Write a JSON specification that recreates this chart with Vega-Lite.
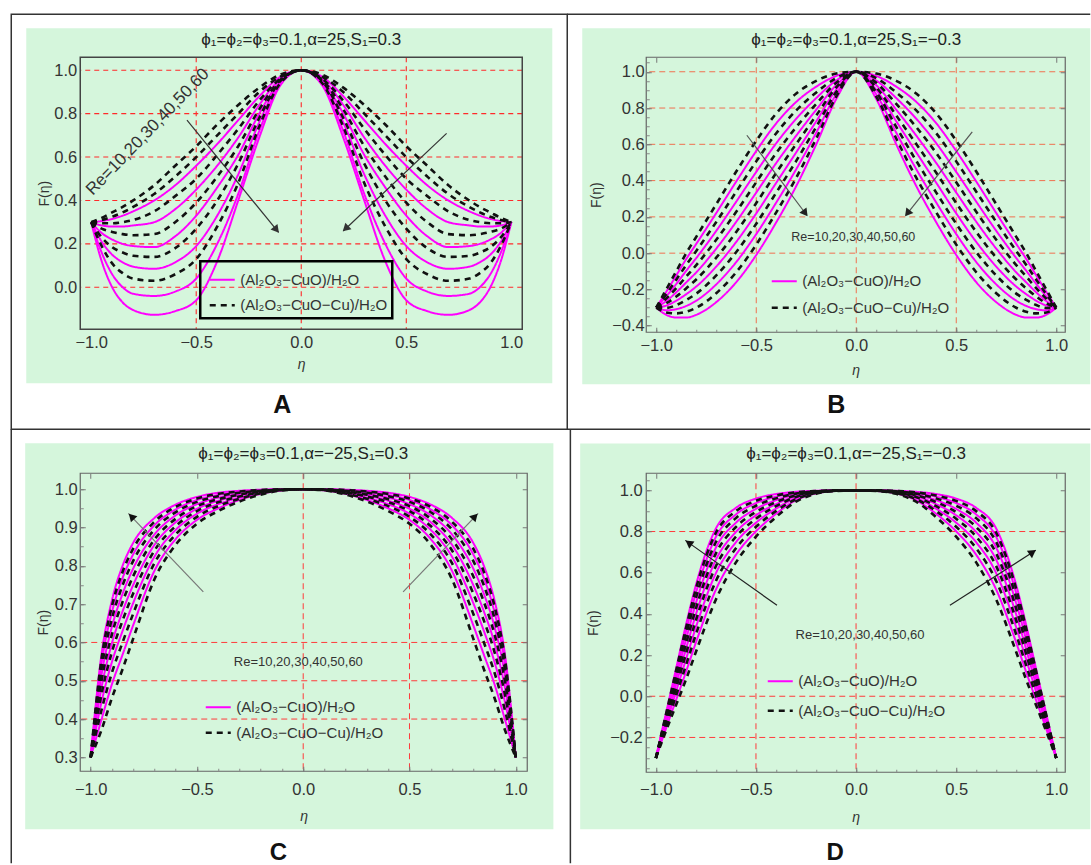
{
"$schema":"https://vega.github.io/schema/vega-lite/v6.json",
"background":"white",
"padding":{"left":10.25,"top":13.25,"right":0,"bottom":0},
"bounds":"flush",
"columns":2,
"spacing":{"row":141,"column":119},
"datasets":{"curves":[
{"p":"A","t":"M","x":-1,"r1":0.3,"r2":0.3,"r3":0.3,"r4":0.3,"r5":0.3,"r6":0.3},
{"p":"A","t":"M","x":-0.95,"r1":0.305,"r2":0.285,"r3":0.25,"r4":0.21,"r5":0.16,"r6":0.12},
{"p":"A","t":"M","x":-0.9,"r1":0.315,"r2":0.28,"r3":0.22,"r4":0.15,"r5":0.06,"r6":0},
{"p":"A","t":"M","x":-0.85,"r1":0.33,"r2":0.28,"r3":0.2,"r4":0.115,"r5":0,"r6":-0.07},
{"p":"A","t":"M","x":-0.8,"r1":0.35,"r2":0.285,"r3":0.19,"r4":0.095,"r5":-0.03,"r6":-0.105},
{"p":"A","t":"M","x":-0.7,"r1":0.4,"r2":0.3,"r3":0.185,"r4":0.085,"r5":-0.04,"r6":-0.127},
{"p":"A","t":"M","x":-0.6,"r1":0.47,"r2":0.36,"r3":0.235,"r4":0.115,"r5":-0.02,"r6":-0.11},
{"p":"A","t":"M","x":-0.5,"r1":0.56,"r2":0.45,"r3":0.33,"r4":0.19,"r5":0.04,"r6":-0.06},
{"p":"A","t":"M","x":-0.4,"r1":0.66,"r2":0.56,"r3":0.46,"r4":0.33,"r5":0.2,"r6":0.12},
{"p":"A","t":"M","x":-0.3,"r1":0.77,"r2":0.69,"r3":0.61,"r4":0.52,"r5":0.43,"r6":0.4},
{"p":"A","t":"M","x":-0.2,"r1":0.88,"r2":0.84,"r3":0.8,"r4":0.76,"r5":0.72,"r6":0.69},
{"p":"A","t":"M","x":-0.1,"r1":0.97,"r2":0.96,"r3":0.95,"r4":0.945,"r5":0.935,"r6":0.93},
{"p":"A","t":"M","x":0,"r1":1,"r2":1,"r3":1,"r4":1,"r5":1,"r6":1},
{"p":"A","t":"M","x":0.1,"r1":0.97,"r2":0.96,"r3":0.95,"r4":0.945,"r5":0.935,"r6":0.93},
{"p":"A","t":"M","x":0.2,"r1":0.88,"r2":0.84,"r3":0.8,"r4":0.76,"r5":0.72,"r6":0.69},
{"p":"A","t":"M","x":0.3,"r1":0.77,"r2":0.69,"r3":0.61,"r4":0.52,"r5":0.43,"r6":0.4},
{"p":"A","t":"M","x":0.4,"r1":0.66,"r2":0.56,"r3":0.46,"r4":0.33,"r5":0.2,"r6":0.12},
{"p":"A","t":"M","x":0.5,"r1":0.56,"r2":0.45,"r3":0.33,"r4":0.19,"r5":0.04,"r6":-0.06},
{"p":"A","t":"M","x":0.6,"r1":0.47,"r2":0.36,"r3":0.235,"r4":0.115,"r5":-0.02,"r6":-0.11},
{"p":"A","t":"M","x":0.7,"r1":0.4,"r2":0.3,"r3":0.185,"r4":0.085,"r5":-0.04,"r6":-0.127},
{"p":"A","t":"M","x":0.8,"r1":0.35,"r2":0.285,"r3":0.19,"r4":0.095,"r5":-0.03,"r6":-0.105},
{"p":"A","t":"M","x":0.85,"r1":0.33,"r2":0.28,"r3":0.2,"r4":0.115,"r5":0,"r6":-0.07},
{"p":"A","t":"M","x":0.9,"r1":0.315,"r2":0.28,"r3":0.22,"r4":0.15,"r5":0.06,"r6":0},
{"p":"A","t":"M","x":0.95,"r1":0.305,"r2":0.285,"r3":0.25,"r4":0.21,"r5":0.16,"r6":0.12},
{"p":"A","t":"M","x":1,"r1":0.3,"r2":0.3,"r3":0.3,"r4":0.3,"r5":0.3,"r6":0.3},
{"p":"A","t":"D","x":-1,"r1":0.3,"r2":0.3,"r3":0.3,"r4":0.3,"r5":0.3,"r6":0.3},
{"p":"A","t":"D","x":-0.95,"r1":0.32,"r2":0.31,"r3":0.295,"r4":0.27,"r5":0.23,"r6":0.19},
{"p":"A","t":"D","x":-0.9,"r1":0.345,"r2":0.325,"r3":0.295,"r4":0.255,"r5":0.185,"r6":0.11},
{"p":"A","t":"D","x":-0.85,"r1":0.37,"r2":0.345,"r3":0.3,"r4":0.245,"r5":0.16,"r6":0.065},
{"p":"A","t":"D","x":-0.8,"r1":0.4,"r2":0.37,"r3":0.31,"r4":0.24,"r5":0.145,"r6":0.04},
{"p":"A","t":"D","x":-0.7,"r1":0.47,"r2":0.43,"r3":0.35,"r4":0.245,"r5":0.14,"r6":0.03},
{"p":"A","t":"D","x":-0.6,"r1":0.56,"r2":0.51,"r3":0.42,"r4":0.3,"r5":0.18,"r6":0.06},
{"p":"A","t":"D","x":-0.5,"r1":0.65,"r2":0.6,"r3":0.5,"r4":0.39,"r5":0.27,"r6":0.13},
{"p":"A","t":"D","x":-0.4,"r1":0.75,"r2":0.7,"r3":0.61,"r4":0.51,"r5":0.4,"r6":0.28},
{"p":"A","t":"D","x":-0.3,"r1":0.84,"r2":0.8,"r3":0.73,"r4":0.65,"r5":0.57,"r6":0.48},
{"p":"A","t":"D","x":-0.2,"r1":0.92,"r2":0.9,"r3":0.86,"r4":0.82,"r5":0.78,"r6":0.74},
{"p":"A","t":"D","x":-0.1,"r1":0.98,"r2":0.97,"r3":0.96,"r4":0.955,"r5":0.95,"r6":0.94},
{"p":"A","t":"D","x":0,"r1":1,"r2":1,"r3":1,"r4":1,"r5":1,"r6":1},
{"p":"A","t":"D","x":0.1,"r1":0.98,"r2":0.97,"r3":0.96,"r4":0.955,"r5":0.95,"r6":0.94},
{"p":"A","t":"D","x":0.2,"r1":0.92,"r2":0.9,"r3":0.86,"r4":0.82,"r5":0.78,"r6":0.74},
{"p":"A","t":"D","x":0.3,"r1":0.84,"r2":0.8,"r3":0.73,"r4":0.65,"r5":0.57,"r6":0.48},
{"p":"A","t":"D","x":0.4,"r1":0.75,"r2":0.7,"r3":0.61,"r4":0.51,"r5":0.4,"r6":0.28},
{"p":"A","t":"D","x":0.5,"r1":0.65,"r2":0.6,"r3":0.5,"r4":0.39,"r5":0.27,"r6":0.13},
{"p":"A","t":"D","x":0.6,"r1":0.56,"r2":0.51,"r3":0.42,"r4":0.3,"r5":0.18,"r6":0.06},
{"p":"A","t":"D","x":0.7,"r1":0.47,"r2":0.43,"r3":0.35,"r4":0.245,"r5":0.14,"r6":0.03},
{"p":"A","t":"D","x":0.8,"r1":0.4,"r2":0.37,"r3":0.31,"r4":0.24,"r5":0.145,"r6":0.04},
{"p":"A","t":"D","x":0.85,"r1":0.37,"r2":0.345,"r3":0.3,"r4":0.245,"r5":0.16,"r6":0.065},
{"p":"A","t":"D","x":0.9,"r1":0.345,"r2":0.325,"r3":0.295,"r4":0.255,"r5":0.185,"r6":0.11},
{"p":"A","t":"D","x":0.95,"r1":0.32,"r2":0.31,"r3":0.295,"r4":0.27,"r5":0.23,"r6":0.19},
{"p":"A","t":"D","x":1,"r1":0.3,"r2":0.3,"r3":0.3,"r4":0.3,"r5":0.3,"r6":0.3},
{"p":"B","t":"M","x":-1,"r1":-0.3,"r2":-0.3,"r3":-0.3,"r4":-0.3,"r5":-0.3,"r6":-0.3},
{"p":"B","t":"M","x":-0.95,"r1":-0.213,"r2":-0.238,"r3":-0.264,"r4":-0.289,"r5":-0.315,"r6":-0.34},
{"p":"B","t":"M","x":-0.9,"r1":-0.123,"r2":-0.17,"r3":-0.216,"r4":-0.262,"r5":-0.309,"r6":-0.355},
{"p":"B","t":"M","x":-0.85,"r1":-0.032,"r2":-0.097,"r3":-0.161,"r4":-0.226,"r5":-0.291,"r6":-0.355},
{"p":"B","t":"M","x":-0.8,"r1":0.051,"r2":-0.027,"r3":-0.106,"r4":-0.184,"r5":-0.262,"r6":-0.34},
{"p":"B","t":"M","x":-0.7,"r1":0.221,"r2":0.123,"r3":0.025,"r4":-0.074,"r5":-0.172,"r6":-0.27},
{"p":"B","t":"M","x":-0.6,"r1":0.395,"r2":0.284,"r3":0.173,"r4":0.062,"r5":-0.049,"r6":-0.16},
{"p":"B","t":"M","x":-0.5,"r1":0.563,"r2":0.448,"r3":0.334,"r4":0.219,"r5":0.105,"r6":-0.01},
{"p":"B","t":"M","x":-0.4,"r1":0.716,"r2":0.606,"r3":0.497,"r4":0.388,"r5":0.279,"r6":0.17},
{"p":"B","t":"M","x":-0.3,"r1":0.834,"r2":0.741,"r3":0.648,"r4":0.556,"r5":0.463,"r6":0.37},
{"p":"B","t":"M","x":-0.2,"r1":0.918,"r2":0.855,"r3":0.791,"r4":0.727,"r5":0.664,"r6":0.6},
{"p":"B","t":"M","x":-0.1,"r1":0.977,"r2":0.952,"r3":0.926,"r4":0.901,"r5":0.876,"r6":0.85},
{"p":"B","t":"M","x":0,"r1":1,"r2":1,"r3":1,"r4":1,"r5":1,"r6":1},
{"p":"B","t":"M","x":0.1,"r1":0.977,"r2":0.952,"r3":0.926,"r4":0.901,"r5":0.876,"r6":0.85},
{"p":"B","t":"M","x":0.2,"r1":0.918,"r2":0.855,"r3":0.791,"r4":0.727,"r5":0.664,"r6":0.6},
{"p":"B","t":"M","x":0.3,"r1":0.834,"r2":0.741,"r3":0.648,"r4":0.556,"r5":0.463,"r6":0.37},
{"p":"B","t":"M","x":0.4,"r1":0.716,"r2":0.606,"r3":0.497,"r4":0.388,"r5":0.279,"r6":0.17},
{"p":"B","t":"M","x":0.5,"r1":0.563,"r2":0.448,"r3":0.334,"r4":0.219,"r5":0.105,"r6":-0.01},
{"p":"B","t":"M","x":0.6,"r1":0.395,"r2":0.284,"r3":0.173,"r4":0.062,"r5":-0.049,"r6":-0.16},
{"p":"B","t":"M","x":0.7,"r1":0.221,"r2":0.123,"r3":0.025,"r4":-0.074,"r5":-0.172,"r6":-0.27},
{"p":"B","t":"M","x":0.8,"r1":0.051,"r2":-0.027,"r3":-0.106,"r4":-0.184,"r5":-0.262,"r6":-0.34},
{"p":"B","t":"M","x":0.85,"r1":-0.032,"r2":-0.097,"r3":-0.161,"r4":-0.226,"r5":-0.291,"r6":-0.355},
{"p":"B","t":"M","x":0.9,"r1":-0.123,"r2":-0.17,"r3":-0.216,"r4":-0.262,"r5":-0.309,"r6":-0.355},
{"p":"B","t":"M","x":0.95,"r1":-0.213,"r2":-0.238,"r3":-0.264,"r4":-0.289,"r5":-0.315,"r6":-0.34},
{"p":"B","t":"M","x":1,"r1":-0.3,"r2":-0.3,"r3":-0.3,"r4":-0.3,"r5":-0.3,"r6":-0.3},
{"p":"B","t":"D","x":-1,"r1":-0.3,"r2":-0.3,"r3":-0.3,"r4":-0.3,"r5":-0.3,"r6":-0.3},
{"p":"B","t":"D","x":-0.95,"r1":-0.2,"r2":-0.226,"r3":-0.251,"r4":-0.276,"r5":-0.302,"r6":-0.327},
{"p":"B","t":"D","x":-0.9,"r1":-0.1,"r2":-0.146,"r3":-0.193,"r4":-0.239,"r5":-0.286,"r6":-0.332},
{"p":"B","t":"D","x":-0.85,"r1":0,"r2":-0.065,"r3":-0.129,"r4":-0.194,"r5":-0.258,"r6":-0.323},
{"p":"B","t":"D","x":-0.8,"r1":0.09,"r2":0.012,"r3":-0.066,"r4":-0.145,"r5":-0.223,"r6":-0.301},
{"p":"B","t":"D","x":-0.7,"r1":0.27,"r2":0.172,"r3":0.074,"r4":-0.025,"r5":-0.123,"r6":-0.221},
{"p":"B","t":"D","x":-0.6,"r1":0.45,"r2":0.339,"r3":0.228,"r4":0.117,"r5":0.006,"r6":-0.105},
{"p":"B","t":"D","x":-0.5,"r1":0.62,"r2":0.506,"r3":0.391,"r4":0.276,"r5":0.162,"r6":0.047},
{"p":"B","t":"D","x":-0.4,"r1":0.77,"r2":0.661,"r3":0.552,"r4":0.443,"r5":0.334,"r6":0.225},
{"p":"B","t":"D","x":-0.3,"r1":0.88,"r2":0.787,"r3":0.695,"r4":0.602,"r5":0.509,"r6":0.416},
{"p":"B","t":"D","x":-0.2,"r1":0.95,"r2":0.886,"r3":0.823,"r4":0.759,"r5":0.696,"r6":0.632},
{"p":"B","t":"D","x":-0.1,"r1":0.99,"r2":0.965,"r3":0.939,"r4":0.914,"r5":0.888,"r6":0.863},
{"p":"B","t":"D","x":0,"r1":1,"r2":1,"r3":1,"r4":1,"r5":1,"r6":1},
{"p":"B","t":"D","x":0.1,"r1":0.99,"r2":0.965,"r3":0.939,"r4":0.914,"r5":0.888,"r6":0.863},
{"p":"B","t":"D","x":0.2,"r1":0.95,"r2":0.886,"r3":0.823,"r4":0.759,"r5":0.696,"r6":0.632},
{"p":"B","t":"D","x":0.3,"r1":0.88,"r2":0.787,"r3":0.695,"r4":0.602,"r5":0.509,"r6":0.416},
{"p":"B","t":"D","x":0.4,"r1":0.77,"r2":0.661,"r3":0.552,"r4":0.443,"r5":0.334,"r6":0.225},
{"p":"B","t":"D","x":0.5,"r1":0.62,"r2":0.506,"r3":0.391,"r4":0.276,"r5":0.162,"r6":0.047},
{"p":"B","t":"D","x":0.6,"r1":0.45,"r2":0.339,"r3":0.228,"r4":0.117,"r5":0.006,"r6":-0.105},
{"p":"B","t":"D","x":0.7,"r1":0.27,"r2":0.172,"r3":0.074,"r4":-0.025,"r5":-0.123,"r6":-0.221},
{"p":"B","t":"D","x":0.8,"r1":0.09,"r2":0.012,"r3":-0.066,"r4":-0.145,"r5":-0.223,"r6":-0.301},
{"p":"B","t":"D","x":0.85,"r1":0,"r2":-0.065,"r3":-0.129,"r4":-0.194,"r5":-0.258,"r6":-0.323},
{"p":"B","t":"D","x":0.9,"r1":-0.1,"r2":-0.146,"r3":-0.193,"r4":-0.239,"r5":-0.286,"r6":-0.332},
{"p":"B","t":"D","x":0.95,"r1":-0.2,"r2":-0.226,"r3":-0.251,"r4":-0.276,"r5":-0.302,"r6":-0.327},
{"p":"B","t":"D","x":1,"r1":-0.3,"r2":-0.3,"r3":-0.3,"r4":-0.3,"r5":-0.3,"r6":-0.3},
{"p":"C","t":"M","x":-1,"r1":0.3,"r2":0.3,"r3":0.3,"r4":0.3,"r5":0.3,"r6":0.3},
{"p":"C","t":"M","x":-0.95,"r1":0.397,"r2":0.442,"r3":0.479,"r4":0.512,"r5":0.542,"r6":0.565},
{"p":"C","t":"M","x":-0.9,"r1":0.491,"r2":0.549,"r3":0.598,"r4":0.641,"r5":0.679,"r6":0.71},
{"p":"C","t":"M","x":-0.85,"r1":0.568,"r2":0.63,"r3":0.681,"r4":0.727,"r5":0.768,"r6":0.8},
{"p":"C","t":"M","x":-0.8,"r1":0.645,"r2":0.703,"r3":0.75,"r4":0.793,"r5":0.83,"r6":0.86},
{"p":"C","t":"M","x":-0.7,"r1":0.787,"r2":0.824,"r3":0.855,"r4":0.882,"r5":0.906,"r6":0.925},
{"p":"C","t":"M","x":-0.6,"r1":0.87,"r2":0.894,"r3":0.914,"r4":0.932,"r5":0.947,"r6":0.96},
{"p":"C","t":"M","x":-0.5,"r1":0.92,"r2":0.936,"r3":0.949,"r4":0.961,"r5":0.972,"r6":0.98},
{"p":"C","t":"M","x":-0.4,"r1":0.95,"r2":0.961,"r3":0.97,"r4":0.978,"r5":0.985,"r6":0.991},
{"p":"C","t":"M","x":-0.3,"r1":0.972,"r2":0.978,"r3":0.984,"r4":0.988,"r5":0.993,"r6":0.996},
{"p":"C","t":"M","x":-0.2,"r1":0.988,"r2":0.991,"r3":0.993,"r4":0.996,"r5":0.997,"r6":0.999},
{"p":"C","t":"M","x":-0.1,"r1":0.997,"r2":0.998,"r3":0.999,"r4":0.999,"r5":1,"r6":1},
{"p":"C","t":"M","x":0,"r1":1,"r2":1,"r3":1,"r4":1,"r5":1,"r6":1},
{"p":"C","t":"M","x":0.1,"r1":0.997,"r2":0.998,"r3":0.999,"r4":0.999,"r5":1,"r6":1},
{"p":"C","t":"M","x":0.2,"r1":0.988,"r2":0.991,"r3":0.993,"r4":0.996,"r5":0.997,"r6":0.999},
{"p":"C","t":"M","x":0.3,"r1":0.972,"r2":0.978,"r3":0.984,"r4":0.988,"r5":0.993,"r6":0.996},
{"p":"C","t":"M","x":0.4,"r1":0.95,"r2":0.961,"r3":0.97,"r4":0.978,"r5":0.985,"r6":0.991},
{"p":"C","t":"M","x":0.5,"r1":0.92,"r2":0.936,"r3":0.949,"r4":0.961,"r5":0.972,"r6":0.98},
{"p":"C","t":"M","x":0.6,"r1":0.87,"r2":0.894,"r3":0.914,"r4":0.932,"r5":0.947,"r6":0.96},
{"p":"C","t":"M","x":0.7,"r1":0.787,"r2":0.824,"r3":0.855,"r4":0.882,"r5":0.906,"r6":0.925},
{"p":"C","t":"M","x":0.8,"r1":0.645,"r2":0.703,"r3":0.75,"r4":0.793,"r5":0.83,"r6":0.86},
{"p":"C","t":"M","x":0.85,"r1":0.568,"r2":0.63,"r3":0.681,"r4":0.727,"r5":0.768,"r6":0.8},
{"p":"C","t":"M","x":0.9,"r1":0.491,"r2":0.549,"r3":0.598,"r4":0.641,"r5":0.679,"r6":0.71},
{"p":"C","t":"M","x":0.95,"r1":0.397,"r2":0.442,"r3":0.479,"r4":0.512,"r5":0.542,"r6":0.565},
{"p":"C","t":"M","x":1,"r1":0.3,"r2":0.3,"r3":0.3,"r4":0.3,"r5":0.3,"r6":0.3},
{"p":"C","t":"D","x":-1,"r1":0.3,"r2":0.3,"r3":0.3,"r4":0.3,"r5":0.3,"r6":0.3},
{"p":"C","t":"D","x":-0.95,"r1":0.37,"r2":0.421,"r3":0.462,"r4":0.497,"r5":0.528,"r6":0.553},
{"p":"C","t":"D","x":-0.9,"r1":0.455,"r2":0.521,"r3":0.575,"r4":0.621,"r5":0.662,"r6":0.695},
{"p":"C","t":"D","x":-0.85,"r1":0.53,"r2":0.6,"r3":0.657,"r4":0.706,"r5":0.749,"r6":0.784},
{"p":"C","t":"D","x":-0.8,"r1":0.61,"r2":0.675,"r3":0.728,"r4":0.773,"r5":0.813,"r6":0.845},
{"p":"C","t":"D","x":-0.7,"r1":0.765,"r2":0.807,"r3":0.84,"r4":0.869,"r5":0.895,"r6":0.915},
{"p":"C","t":"D","x":-0.6,"r1":0.855,"r2":0.882,"r3":0.904,"r4":0.923,"r5":0.94,"r6":0.954},
{"p":"C","t":"D","x":-0.5,"r1":0.91,"r2":0.928,"r3":0.943,"r4":0.956,"r5":0.967,"r6":0.976},
{"p":"C","t":"D","x":-0.4,"r1":0.943,"r2":0.956,"r3":0.966,"r4":0.974,"r5":0.982,"r6":0.988},
{"p":"C","t":"D","x":-0.3,"r1":0.968,"r2":0.975,"r3":0.981,"r4":0.986,"r5":0.991,"r6":0.994},
{"p":"C","t":"D","x":-0.2,"r1":0.986,"r2":0.989,"r3":0.992,"r4":0.994,"r5":0.996,"r6":0.998},
{"p":"C","t":"D","x":-0.1,"r1":0.997,"r2":0.998,"r3":0.998,"r4":0.999,"r5":0.999,"r6":1},
{"p":"C","t":"D","x":0,"r1":1,"r2":1,"r3":1,"r4":1,"r5":1,"r6":1},
{"p":"C","t":"D","x":0.1,"r1":0.997,"r2":0.998,"r3":0.998,"r4":0.999,"r5":0.999,"r6":1},
{"p":"C","t":"D","x":0.2,"r1":0.986,"r2":0.989,"r3":0.992,"r4":0.994,"r5":0.996,"r6":0.998},
{"p":"C","t":"D","x":0.3,"r1":0.968,"r2":0.975,"r3":0.981,"r4":0.986,"r5":0.991,"r6":0.994},
{"p":"C","t":"D","x":0.4,"r1":0.943,"r2":0.956,"r3":0.966,"r4":0.974,"r5":0.982,"r6":0.988},
{"p":"C","t":"D","x":0.5,"r1":0.91,"r2":0.928,"r3":0.943,"r4":0.956,"r5":0.967,"r6":0.976},
{"p":"C","t":"D","x":0.6,"r1":0.855,"r2":0.882,"r3":0.904,"r4":0.923,"r5":0.94,"r6":0.954},
{"p":"C","t":"D","x":0.7,"r1":0.765,"r2":0.807,"r3":0.84,"r4":0.869,"r5":0.895,"r6":0.915},
{"p":"C","t":"D","x":0.8,"r1":0.61,"r2":0.675,"r3":0.728,"r4":0.773,"r5":0.813,"r6":0.845},
{"p":"C","t":"D","x":0.85,"r1":0.53,"r2":0.6,"r3":0.657,"r4":0.706,"r5":0.749,"r6":0.784},
{"p":"C","t":"D","x":0.9,"r1":0.455,"r2":0.521,"r3":0.575,"r4":0.621,"r5":0.662,"r6":0.695},
{"p":"C","t":"D","x":0.95,"r1":0.37,"r2":0.421,"r3":0.462,"r4":0.497,"r5":0.528,"r6":0.553},
{"p":"C","t":"D","x":1,"r1":0.3,"r2":0.3,"r3":0.3,"r4":0.3,"r5":0.3,"r6":0.3},
{"p":"D","t":"M","x":-1,"r1":-0.3,"r2":-0.3,"r3":-0.3,"r4":-0.3,"r5":-0.3,"r6":-0.3},
{"p":"D","t":"M","x":-0.95,"r1":-0.158,"r2":-0.139,"r3":-0.122,"r4":-0.108,"r5":-0.095,"r6":-0.085},
{"p":"D","t":"M","x":-0.9,"r1":-0.021,"r2":0.02,"r3":0.053,"r4":0.083,"r5":0.109,"r6":0.13},
{"p":"D","t":"M","x":-0.85,"r1":0.117,"r2":0.178,"r3":0.228,"r4":0.273,"r5":0.313,"r6":0.345},
{"p":"D","t":"M","x":-0.8,"r1":0.261,"r2":0.335,"r3":0.397,"r4":0.452,"r5":0.501,"r6":0.54},
{"p":"D","t":"M","x":-0.7,"r1":0.518,"r2":0.598,"r3":0.663,"r4":0.722,"r5":0.774,"r6":0.815},
{"p":"D","t":"M","x":-0.6,"r1":0.687,"r2":0.748,"r3":0.798,"r4":0.843,"r5":0.883,"r6":0.915},
{"p":"D","t":"M","x":-0.5,"r1":0.801,"r2":0.843,"r3":0.879,"r4":0.91,"r5":0.938,"r6":0.96},
{"p":"D","t":"M","x":-0.4,"r1":0.886,"r2":0.911,"r3":0.933,"r4":0.952,"r5":0.969,"r6":0.982},
{"p":"D","t":"M","x":-0.3,"r1":0.952,"r2":0.963,"r3":0.972,"r4":0.98,"r5":0.987,"r6":0.993},
{"p":"D","t":"M","x":-0.2,"r1":0.985,"r2":0.989,"r3":0.991,"r4":0.994,"r5":0.996,"r6":0.998},
{"p":"D","t":"M","x":-0.1,"r1":0.997,"r2":0.998,"r3":0.999,"r4":0.999,"r5":1,"r6":1},
{"p":"D","t":"M","x":0,"r1":1,"r2":1,"r3":1,"r4":1,"r5":1,"r6":1},
{"p":"D","t":"M","x":0.1,"r1":0.997,"r2":0.998,"r3":0.999,"r4":0.999,"r5":1,"r6":1},
{"p":"D","t":"M","x":0.2,"r1":0.985,"r2":0.989,"r3":0.991,"r4":0.994,"r5":0.996,"r6":0.998},
{"p":"D","t":"M","x":0.3,"r1":0.952,"r2":0.963,"r3":0.972,"r4":0.98,"r5":0.987,"r6":0.993},
{"p":"D","t":"M","x":0.4,"r1":0.886,"r2":0.911,"r3":0.933,"r4":0.952,"r5":0.969,"r6":0.982},
{"p":"D","t":"M","x":0.5,"r1":0.801,"r2":0.843,"r3":0.879,"r4":0.91,"r5":0.938,"r6":0.96},
{"p":"D","t":"M","x":0.6,"r1":0.687,"r2":0.748,"r3":0.798,"r4":0.843,"r5":0.883,"r6":0.915},
{"p":"D","t":"M","x":0.7,"r1":0.518,"r2":0.598,"r3":0.663,"r4":0.722,"r5":0.774,"r6":0.815},
{"p":"D","t":"M","x":0.8,"r1":0.261,"r2":0.335,"r3":0.397,"r4":0.452,"r5":0.501,"r6":0.54},
{"p":"D","t":"M","x":0.85,"r1":0.117,"r2":0.178,"r3":0.228,"r4":0.273,"r5":0.313,"r6":0.345},
{"p":"D","t":"M","x":0.9,"r1":-0.021,"r2":0.02,"r3":0.053,"r4":0.083,"r5":0.109,"r6":0.13},
{"p":"D","t":"M","x":0.95,"r1":-0.158,"r2":-0.139,"r3":-0.122,"r4":-0.108,"r5":-0.095,"r6":-0.085},
{"p":"D","t":"M","x":1,"r1":-0.3,"r2":-0.3,"r3":-0.3,"r4":-0.3,"r5":-0.3,"r6":-0.3},
{"p":"D","t":"D","x":-1,"r1":-0.3,"r2":-0.3,"r3":-0.3,"r4":-0.3,"r5":-0.3,"r6":-0.3},
{"p":"D","t":"D","x":-0.95,"r1":-0.17,"r2":-0.148,"r3":-0.13,"r4":-0.115,"r5":-0.101,"r6":-0.09},
{"p":"D","t":"D","x":-0.9,"r1":-0.045,"r2":0.001,"r3":0.037,"r4":0.069,"r5":0.097,"r6":0.12},
{"p":"D","t":"D","x":-0.85,"r1":0.08,"r2":0.149,"r3":0.205,"r4":0.252,"r5":0.295,"r6":0.329},
{"p":"D","t":"D","x":-0.8,"r1":0.215,"r2":0.3,"r3":0.368,"r4":0.426,"r5":0.478,"r6":0.521},
{"p":"D","t":"D","x":-0.7,"r1":0.47,"r2":0.56,"r3":0.632,"r4":0.694,"r5":0.749,"r6":0.794},
{"p":"D","t":"D","x":-0.6,"r1":0.65,"r2":0.719,"r3":0.775,"r4":0.822,"r5":0.865,"r6":0.899},
{"p":"D","t":"D","x":-0.5,"r1":0.775,"r2":0.823,"r3":0.862,"r4":0.895,"r5":0.925,"r6":0.949},
{"p":"D","t":"D","x":-0.4,"r1":0.87,"r2":0.899,"r3":0.923,"r4":0.943,"r5":0.961,"r6":0.975},
{"p":"D","t":"D","x":-0.3,"r1":0.945,"r2":0.957,"r3":0.968,"r4":0.976,"r5":0.984,"r6":0.99},
{"p":"D","t":"D","x":-0.2,"r1":0.983,"r2":0.987,"r3":0.99,"r4":0.993,"r5":0.995,"r6":0.997},
{"p":"D","t":"D","x":-0.1,"r1":0.997,"r2":0.998,"r3":0.998,"r4":0.999,"r5":0.999,"r6":1},
{"p":"D","t":"D","x":0,"r1":1,"r2":1,"r3":1,"r4":1,"r5":1,"r6":1},
{"p":"D","t":"D","x":0.1,"r1":0.997,"r2":0.998,"r3":0.998,"r4":0.999,"r5":0.999,"r6":1},
{"p":"D","t":"D","x":0.2,"r1":0.983,"r2":0.987,"r3":0.99,"r4":0.993,"r5":0.995,"r6":0.997},
{"p":"D","t":"D","x":0.3,"r1":0.945,"r2":0.957,"r3":0.968,"r4":0.976,"r5":0.984,"r6":0.99},
{"p":"D","t":"D","x":0.4,"r1":0.87,"r2":0.899,"r3":0.923,"r4":0.943,"r5":0.961,"r6":0.975},
{"p":"D","t":"D","x":0.5,"r1":0.775,"r2":0.823,"r3":0.862,"r4":0.895,"r5":0.925,"r6":0.949},
{"p":"D","t":"D","x":0.6,"r1":0.65,"r2":0.719,"r3":0.775,"r4":0.822,"r5":0.865,"r6":0.899},
{"p":"D","t":"D","x":0.7,"r1":0.47,"r2":0.56,"r3":0.632,"r4":0.694,"r5":0.749,"r6":0.794},
{"p":"D","t":"D","x":0.8,"r1":0.215,"r2":0.3,"r3":0.368,"r4":0.426,"r5":0.478,"r6":0.521},
{"p":"D","t":"D","x":0.85,"r1":0.08,"r2":0.149,"r3":0.205,"r4":0.252,"r5":0.295,"r6":0.329},
{"p":"D","t":"D","x":0.9,"r1":-0.045,"r2":0.001,"r3":0.037,"r4":0.069,"r5":0.097,"r6":0.12},
{"p":"D","t":"D","x":0.95,"r1":-0.17,"r2":-0.148,"r3":-0.13,"r4":-0.115,"r5":-0.101,"r6":-0.09},
{"p":"D","t":"D","x":1,"r1":-0.3,"r2":-0.3,"r3":-0.3,"r4":-0.3,"r5":-0.3,"r6":-0.3}
]},
"concat":[
{
 "width":442,"height":272,
 "resolve":{"axis":{"x":"independent","y":"independent"}},
 "layer":[
  {"data":{"values":[{}]},"mark":{"type":"rect","fill":"#d5f6dc"},"encoding":{"x":{"datum":-1.309,"type":"quantitative","scale":{"domain":[-1.052,1.052],"nice":false,"zero":false},"axis":null},"x2":{"datum":1.195},"y":{"datum":1.1936,"type":"quantitative","scale":{"domain":[-0.1935,1.06],"nice":false,"zero":false},"axis":null},"y2":{"datum":-0.4419}}},
  {"data":{"values":[{}]},"mark":{"type":"rect","fill":null,"stroke":"#333","strokeWidth":1.5},"encoding":{"x":{"datum":-1.3804,"type":"quantitative","scale":{"domain":[-1.052,1.052],"nice":false,"zero":false},"axis":null},"x2":{"datum":1.2662},"y":{"datum":1.2581,"type":"quantitative","scale":{"domain":[-0.1935,1.06],"nice":false,"zero":false},"axis":null},"y2":{"datum":-0.6538}}},
  {"data":{"values":[{"v":-0.5},{"v":0},{"v":0.5}]},"mark":{"type":"rule","stroke":"#ff2a2a","strokeDash":[5,4],"strokeWidth":1.1},"encoding":{"x":{"field":"v","type":"quantitative","scale":{"domain":[-1.052,1.052],"nice":false,"zero":false},"axis":null}}},
  {"data":{"values":[{"v":0},{"v":0.2},{"v":0.4},{"v":0.6},{"v":0.8},{"v":1}]},"mark":{"type":"rule","stroke":"#ff2a2a","strokeDash":[5,4],"strokeWidth":1.1},"encoding":{"y":{"field":"v","type":"quantitative","scale":{"domain":[-0.1935,1.06],"nice":false,"zero":false},"axis":null}}},
  {"data":{"values":[{}]},"mark":{"type":"rect","fill":null,"stroke":"#444","strokeWidth":1.5},"encoding":{"x":{"datum":-1.052,"type":"quantitative","scale":{"domain":[-1.052,1.052],"nice":false,"zero":false},"axis":null},"x2":{"datum":1.052},"y":{"datum":1.06,"type":"quantitative","scale":{"domain":[-0.1935,1.06],"nice":false,"zero":false},"axis":null},"y2":{"datum":-0.1935}}},
  {"data":{"name":"curves"},"transform":[{"filter":"datum.p == 'A'"},{"fold":["r1","r2","r3","r4","r5","r6"],"as":["re","y"]}],
   "mark":{"type":"line","interpolate":"monotone"},
   "encoding":{
    "x":{"field":"x","type":"quantitative","scale":{"domain":[-1.052,1.052],"nice":false,"zero":false},"axis":{"zindex":1,"values":[-1,-0.5,0,0.5,1],"format":".1f","title":"η","titleFontStyle":"italic","labelFontSize":16.5,"titleFontSize":14,"labelPadding":5,"titlePadding":7}},
    "y":{"field":"y","type":"quantitative","scale":{"domain":[-0.1935,1.06],"nice":false,"zero":false},"axis":{"zindex":1,"values":[0,0.2,0.4,0.6,0.8,1],"format":".1f","title":"F(η)","labelFontSize":16.5,"titleFontSize":14,"labelPadding":3.5,"titlePadding":2}},
    "color":{"field":"t","type":"nominal","scale":{"domain":["M","D"],"range":["#ff00ff","#111111"]},"legend":{"title":null,"orient":"none","legendX":120,"legendY":204,"strokeColor":"#000000","rowPadding":3,"symbolOffset":3,"labelExpr":"datum.value == 'M' ? '(Al₂O₃−CuO)/H₂O' : '(Al₂O₃−CuO−Cu)/H₂O'"}},
    "strokeDash":{"field":"t","type":"nominal","scale":{"domain":["M","D"],"range":[[1,0],[6,5]]},"legend":{"title":null,"orient":"none","legendX":120,"legendY":204,"strokeColor":"#000000","rowPadding":3,"symbolOffset":3,"labelExpr":"datum.value == 'M' ? '(Al₂O₃−CuO)/H₂O' : '(Al₂O₃−CuO−Cu)/H₂O'"}},
    "strokeWidth":{"field":"t","type":"ordinal","scale":{"domain":["M","D"],"range":[2,2.6]},"legend":null},
    "detail":{"field":"re","type":"nominal"}
   }},
  {"data":{"values":[{}]},"mark":{"type":"rule","stroke":"#333","strokeWidth":1.2},"encoding":{"x":{"datum":-0.544,"type":"quantitative","scale":{"domain":[-1.052,1.052],"nice":false,"zero":false},"axis":null},"x2":{"datum":-0.108},"y":{"datum":0.77,"type":"quantitative","scale":{"domain":[-0.1935,1.06],"nice":false,"zero":false},"axis":null},"y2":{"datum":0.253}}},
  {"data":{"values":[{}]},"mark":{"type":"rule","stroke":"#333","strokeWidth":1.2},"encoding":{"x":{"datum":0.692,"type":"quantitative","scale":{"domain":[-1.052,1.052],"nice":false,"zero":false},"axis":null},"x2":{"datum":0.2},"y":{"datum":0.709,"type":"quantitative","scale":{"domain":[-0.1935,1.06],"nice":false,"zero":false},"axis":null},"y2":{"datum":0.259}}},
  {"data":{"values":[{}]},"mark":{"type":"point","shape":"triangle-up","filled":true,"color":"#333","opacity":1,"size":80,"angle":140.6},"encoding":{"x":{"datum":-0.118,"type":"quantitative","scale":{"domain":[-1.052,1.052],"nice":false,"zero":false},"axis":null},"y":{"datum":0.265,"type":"quantitative","scale":{"domain":[-0.1935,1.06],"nice":false,"zero":false},"axis":null}}},
  {"data":{"values":[{}]},"mark":{"type":"point","shape":"triangle-up","filled":true,"color":"#333","opacity":1,"size":80,"angle":226.9},"encoding":{"x":{"datum":0.211,"type":"quantitative","scale":{"domain":[-1.052,1.052],"nice":false,"zero":false},"axis":null},"y":{"datum":0.27,"type":"quantitative","scale":{"domain":[-0.1935,1.06],"nice":false,"zero":false},"axis":null}}},
  {"data":{"values":[{}]},"mark":{"type":"text","text":"Re=10,20,30,40,50,60","fontSize":17,"angle":-46,"color":"#333","align":"center","baseline":"middle"},"encoding":{"x":{"datum":-0.731,"type":"quantitative","scale":{"domain":[-1.052,1.052],"nice":false,"zero":false},"axis":null},"y":{"datum":0.716,"type":"quantitative","scale":{"domain":[-0.1935,1.06],"nice":false,"zero":false},"axis":null}}},
  {"data":{"values":[{}]},"mark":{"type":"text","text":"ϕ₁=ϕ₂=ϕ₃=0.1,α=25,S₁=0.3","fontSize":17,"color":"#222","align":"center","baseline":"middle"},"encoding":{"x":{"datum":0,"type":"quantitative","scale":{"domain":[-1.052,1.052],"nice":false,"zero":false},"axis":null},"y":{"datum":1.1415,"type":"quantitative","scale":{"domain":[-0.1935,1.06],"nice":false,"zero":false},"axis":null}}},
  {"data":{"values":[{}]},"mark":{"type":"text","text":"A","fontSize":25,"fontWeight":"bold","color":"#111","align":"center","baseline":"middle"},"encoding":{"x":{"datum":-0.09,"type":"quantitative","scale":{"domain":[-1.052,1.052],"nice":false,"zero":false},"axis":null},"y":{"datum":-0.543,"type":"quantitative","scale":{"domain":[-0.1935,1.06],"nice":false,"zero":false},"axis":null}}}
 ]
},
{
 "width":419,"height":275,
 "resolve":{"axis":{"x":"independent","y":"independent"}},
 "layer":[
  {"data":{"values":[{}]},"mark":{"type":"rect","fill":"#d5f6dc"},"encoding":{"x":{"datum":-1.37,"type":"quantitative","scale":{"domain":[-1.05,1.045],"nice":false,"zero":false},"axis":{"zindex":1,"orient":"bottom","labels":false,"title":null,"ticks":true,"tickSize":-3,"tickColor":"#888","values":[-1,-0.9,-0.8,-0.7,-0.6,-0.5,-0.4,-0.3,-0.2,-0.1,0,0.1,0.2,0.3,0.4,0.5,0.6,0.7,0.8,0.9,1]}},"x2":{"datum":1.17},"y":{"datum":1.24,"type":"quantitative","scale":{"domain":[-0.436,1.08],"nice":false,"zero":false},"axis":{"zindex":1,"orient":"left","labels":false,"title":null,"ticks":true,"tickSize":-3,"tickColor":"#888","values":[-0.4,-0.35,-0.3,-0.25,-0.2,-0.15,-0.1,-0.05,0,0.05,0.1,0.15,0.2,0.25,0.3,0.35,0.4,0.45,0.5,0.55,0.6,0.65,0.7,0.75,0.8,0.85,0.9,0.95,1,1.05]}},"y2":{"datum":-0.7226}}},
  {"data":{"values":[{}]},"mark":{"type":"rule","stroke":"#333","strokeWidth":1.5},"encoding":{"x":{"datum":-1.445,"type":"quantitative","scale":{"domain":[-1.05,1.045],"nice":false,"zero":false},"axis":null},"x2":{"datum":1.17},"y":{"datum":1.317,"type":"quantitative","scale":{"domain":[-0.436,1.08],"nice":false,"zero":false},"axis":null},"y2":{"datum":1.317}}},
  {"data":{"values":[{}]},"mark":{"type":"rule","stroke":"#333","strokeWidth":1.5},"encoding":{"x":{"datum":-1.445,"type":"quantitative","scale":{"domain":[-1.05,1.045],"nice":false,"zero":false},"axis":null},"x2":{"datum":1.17},"y":{"datum":-0.9707,"type":"quantitative","scale":{"domain":[-0.436,1.08],"nice":false,"zero":false},"axis":null},"y2":{"datum":-0.9707}}},
  {"data":{"values":[{"v":-0.5},{"v":0},{"v":0.5}]},"mark":{"type":"rule","stroke":"#f0704f","strokeDash":[6,4],"strokeWidth":1},"encoding":{"x":{"field":"v","type":"quantitative","scale":{"domain":[-1.05,1.045],"nice":false,"zero":false},"axis":null}}},
  {"data":{"values":[{"v":0},{"v":0.2},{"v":0.4},{"v":0.6},{"v":0.8},{"v":1}]},"mark":{"type":"rule","stroke":"#f0704f","strokeDash":[6,4],"strokeWidth":1},"encoding":{"y":{"field":"v","type":"quantitative","scale":{"domain":[-0.436,1.08],"nice":false,"zero":false},"axis":null}}},
  {"data":{"values":[{}]},"mark":{"type":"rect","fill":null,"stroke":"#666","strokeWidth":1.2},"encoding":{"x":{"datum":-1.05,"type":"quantitative","scale":{"domain":[-1.05,1.045],"nice":false,"zero":false},"axis":{"zindex":1,"orient":"top","labels":false,"title":null,"ticks":true,"tickSize":-5,"tickColor":"#777","values":[-1,-0.5,0,0.5,1]}},"x2":{"datum":1.045},"y":{"datum":1.08,"type":"quantitative","scale":{"domain":[-0.436,1.08],"nice":false,"zero":false},"axis":{"zindex":1,"orient":"right","labels":false,"title":null,"ticks":true,"tickSize":-5,"tickColor":"#777","values":[-0.4,-0.2,0,0.2,0.4,0.6,0.8,1]}},"y2":{"datum":-0.436}}},
  {"data":{"name":"curves"},"transform":[{"filter":"datum.p == 'B'"},{"fold":["r1","r2","r3","r4","r5","r6"],"as":["re","y"]}],
   "mark":{"type":"line","interpolate":"monotone"},
   "encoding":{
    "x":{"field":"x","type":"quantitative","scale":{"domain":[-1.05,1.045],"nice":false,"zero":false},"axis":{"zindex":1,"values":[-1,-0.5,0,0.5,1],"format":".1f","title":"η","titleFontStyle":"italic","labelFontSize":16.5,"titleFontSize":14,"ticks":true,"tickSize":-5,"tickColor":"#777","labelPadding":10.5,"titlePadding":9.5}},
    "y":{"field":"y","type":"quantitative","scale":{"domain":[-0.436,1.08],"nice":false,"zero":false},"axis":{"zindex":1,"values":[-0.4,-0.2,0,0.2,0.4,0.6,0.8,1],"format":".1f","title":"F(η)","labelFontSize":16.5,"titleFontSize":14,"ticks":true,"tickSize":-5,"tickColor":"#777","labelPadding":7,"titlePadding":8}},
    "color":{"field":"t","type":"nominal","scale":{"domain":["M","D"],"range":["#ff00ff","#111111"]},"legend":{"title":null,"orient":"none","legendX":119,"legendY":205.5,"rowPadding":4,"labelExpr":"datum.value == 'M' ? '(Al₂O₃−CuO)/H₂O' : '(Al₂O₃−CuO−Cu)/H₂O'"}},
    "strokeDash":{"field":"t","type":"nominal","scale":{"domain":["M","D"],"range":[[1,0],[6,5]]},"legend":{"title":null,"orient":"none","legendX":119,"legendY":205.5,"rowPadding":4,"labelExpr":"datum.value == 'M' ? '(Al₂O₃−CuO)/H₂O' : '(Al₂O₃−CuO−Cu)/H₂O'"}},
    "strokeWidth":{"field":"t","type":"ordinal","scale":{"domain":["M","D"],"range":[2,2.6]},"legend":null},
    "detail":{"field":"re","type":"nominal"}
   }},
  {"data":{"values":[{}]},"mark":{"type":"rule","stroke":"#555","strokeWidth":1.2},"encoding":{"x":{"datum":-0.547,"type":"quantitative","scale":{"domain":[-1.05,1.045],"nice":false,"zero":false},"axis":null},"x2":{"datum":-0.247},"y":{"datum":0.65,"type":"quantitative","scale":{"domain":[-0.436,1.08],"nice":false,"zero":false},"axis":null},"y2":{"datum":0.209}}},
  {"data":{"values":[{}]},"mark":{"type":"rule","stroke":"#555","strokeWidth":1.2},"encoding":{"x":{"datum":0.58,"type":"quantitative","scale":{"domain":[-1.05,1.045],"nice":false,"zero":false},"axis":null},"x2":{"datum":0.249},"y":{"datum":0.668,"type":"quantitative","scale":{"domain":[-0.436,1.08],"nice":false,"zero":false},"axis":null},"y2":{"datum":0.209}}},
  {"data":{"values":[{}]},"mark":{"type":"point","shape":"triangle-up","filled":true,"color":"#222","opacity":1,"size":80,"angle":143.1},"encoding":{"x":{"datum":-0.255,"type":"quantitative","scale":{"domain":[-1.05,1.045],"nice":false,"zero":false},"axis":null},"y":{"datum":0.22,"type":"quantitative","scale":{"domain":[-0.436,1.08],"nice":false,"zero":false},"axis":null}}},
  {"data":{"values":[{}]},"mark":{"type":"point","shape":"triangle-up","filled":true,"color":"#222","opacity":1,"size":80,"angle":218.4},"encoding":{"x":{"datum":0.256,"type":"quantitative","scale":{"domain":[-1.05,1.045],"nice":false,"zero":false},"axis":null},"y":{"datum":0.22,"type":"quantitative","scale":{"domain":[-0.436,1.08],"nice":false,"zero":false},"axis":null}}},
  {"data":{"values":[{}]},"mark":{"type":"text","text":"Re=10,20,30,40,50,60","fontSize":12.5,"color":"#333","align":"center","baseline":"middle"},"encoding":{"x":{"datum":-0.015,"type":"quantitative","scale":{"domain":[-1.05,1.045],"nice":false,"zero":false},"axis":null},"y":{"datum":0.088,"type":"quantitative","scale":{"domain":[-0.436,1.08],"nice":false,"zero":false},"axis":null}}},
  {"data":{"values":[{}]},"mark":{"type":"text","text":"ϕ₁=ϕ₂=ϕ₃=0.1,α=25,S₁=−0.3","fontSize":17,"color":"#222","align":"center","baseline":"middle"},"encoding":{"x":{"datum":0,"type":"quantitative","scale":{"domain":[-1.05,1.045],"nice":false,"zero":false},"axis":null},"y":{"datum":1.1776,"type":"quantitative","scale":{"domain":[-0.436,1.08],"nice":false,"zero":false},"axis":null}}},
  {"data":{"values":[{}]},"mark":{"type":"text","text":"B","fontSize":25,"fontWeight":"bold","color":"#111","align":"center","baseline":"middle"},"encoding":{"x":{"datum":-0.1,"type":"quantitative","scale":{"domain":[-1.05,1.045],"nice":false,"zero":false},"axis":null},"y":{"datum":-0.838,"type":"quantitative","scale":{"domain":[-0.436,1.08],"nice":false,"zero":false},"axis":null}}}
 ]
},
{
 "width":447,"height":298,
 "resolve":{"axis":{"x":"independent","y":"independent"}},
 "layer":[
  {"data":{"values":[{}]},"mark":{"type":"rect","fill":"#d5f6dc"},"encoding":{"x":{"datum":-1.308,"type":"quantitative","scale":{"domain":[-1.049,1.054],"nice":false,"zero":false},"axis":{"zindex":1,"orient":"bottom","labels":false,"title":null,"ticks":true,"tickSize":-3,"tickColor":"#888","values":[-1,-0.9,-0.8,-0.7,-0.6,-0.5,-0.4,-0.3,-0.2,-0.1,0,0.1,0.2,0.3,0.4,0.5,0.6,0.7,0.8,0.9,1]}},"x2":{"datum":1.177},"y":{"datum":1.12,"type":"quantitative","scale":{"domain":[0.2637,1.0418],"nice":false,"zero":false},"axis":{"zindex":1,"orient":"left","labels":false,"title":null,"ticks":true,"tickSize":-3,"tickColor":"#888","values":[0.3,0.35,0.4,0.45,0.5,0.55,0.6,0.65,0.7,0.75,0.8,0.85,0.9,0.95,1]}},"y2":{"datum":0.1123}}},
  {"data":{"values":[{}]},"mark":{"type":"rule","stroke":"#333","strokeWidth":1.5},"encoding":{"x":{"datum":-1.3736,"type":"quantitative","scale":{"domain":[-1.049,1.054],"nice":false,"zero":false},"axis":null},"x2":{"datum":-1.3736},"y":{"datum":1.1567,"type":"quantitative","scale":{"domain":[0.2637,1.0418],"nice":false,"zero":false},"axis":null},"y2":{"datum":0.0235}}},
  {"data":{"values":[{}]},"mark":{"type":"rule","stroke":"#333","strokeWidth":1.5},"encoding":{"x":{"datum":1.2569,"type":"quantitative","scale":{"domain":[-1.049,1.054],"nice":false,"zero":false},"axis":null},"x2":{"datum":1.2569},"y":{"datum":1.1567,"type":"quantitative","scale":{"domain":[0.2637,1.0418],"nice":false,"zero":false},"axis":null},"y2":{"datum":0.0235}}},
  {"data":{"values":[{"v":0},{"v":0.5}]},"mark":{"type":"rule","stroke":"#ff3b3b","strokeDash":[6,4],"strokeWidth":1},"encoding":{"x":{"field":"v","type":"quantitative","scale":{"domain":[-1.049,1.054],"nice":false,"zero":false},"axis":null}}},
  {"data":{"values":[{"v":0.4},{"v":0.5},{"v":0.6}]},"mark":{"type":"rule","stroke":"#ff3b3b","strokeDash":[6,4],"strokeWidth":1},"encoding":{"y":{"field":"v","type":"quantitative","scale":{"domain":[0.2637,1.0418],"nice":false,"zero":false},"axis":null}}},
  {"data":{"values":[{}]},"mark":{"type":"rect","fill":null,"stroke":"#666","strokeWidth":1.2},"encoding":{"x":{"datum":-1.049,"type":"quantitative","scale":{"domain":[-1.049,1.054],"nice":false,"zero":false},"axis":{"zindex":1,"orient":"top","labels":false,"title":null,"ticks":true,"tickSize":-5,"tickColor":"#777","values":[-1,-0.5,0,0.5,1]}},"x2":{"datum":1.054},"y":{"datum":1.0418,"type":"quantitative","scale":{"domain":[0.2637,1.0418],"nice":false,"zero":false},"axis":{"zindex":1,"orient":"right","labels":false,"title":null,"ticks":true,"tickSize":-5,"tickColor":"#777","values":[0.3,0.4,0.5,0.6,0.7,0.8,0.9,1]}},"y2":{"datum":0.2637}}},
  {"data":{"name":"curves"},"transform":[{"filter":"datum.p == 'C'"},{"fold":["r1","r2","r3","r4","r5","r6"],"as":["re","y"]}],
   "mark":{"type":"line","interpolate":"monotone"},
   "encoding":{
    "x":{"field":"x","type":"quantitative","scale":{"domain":[-1.049,1.054],"nice":false,"zero":false},"axis":{"zindex":1,"values":[-1,-0.5,0,0.5,1],"format":".1f","title":"η","titleFontStyle":"italic","labelFontSize":16.5,"titleFontSize":14,"ticks":true,"tickSize":-5,"tickColor":"#777","labelPadding":15,"titlePadding":12}},
    "y":{"field":"y","type":"quantitative","scale":{"domain":[0.2637,1.0418],"nice":false,"zero":false},"axis":{"zindex":1,"values":[0.3,0.4,0.5,0.6,0.7,0.8,0.9,1],"format":".1f","title":"F(η)","labelFontSize":16.5,"titleFontSize":14,"ticks":true,"tickSize":-5,"tickColor":"#777","labelPadding":8,"titlePadding":4}},
    "color":{"field":"t","type":"nominal","scale":{"domain":["M","D"],"range":["#ff00ff","#111111"]},"legend":{"title":null,"orient":"none","legendX":119,"legendY":215.5,"rowPadding":3,"labelExpr":"datum.value == 'M' ? '(Al₂O₃−CuO)/H₂O' : '(Al₂O₃−CuO−Cu)/H₂O'"}},
    "strokeDash":{"field":"t","type":"nominal","scale":{"domain":["M","D"],"range":[[1,0],[6,5]]},"legend":{"title":null,"orient":"none","legendX":119,"legendY":215.5,"rowPadding":3,"labelExpr":"datum.value == 'M' ? '(Al₂O₃−CuO)/H₂O' : '(Al₂O₃−CuO−Cu)/H₂O'"}},
    "strokeWidth":{"field":"t","type":"ordinal","scale":{"domain":["M","D"],"range":[2,2.6]},"legend":null},
    "detail":{"field":"re","type":"nominal"}
   }},
  {"data":{"values":[{}]},"mark":{"type":"rule","stroke":"#777","strokeWidth":1.2},"encoding":{"x":{"datum":-0.47,"type":"quantitative","scale":{"domain":[-1.049,1.054],"nice":false,"zero":false},"axis":null},"x2":{"datum":-0.823},"y":{"datum":0.732,"type":"quantitative","scale":{"domain":[0.2637,1.0418],"nice":false,"zero":false},"axis":null},"y2":{"datum":0.937}}},
  {"data":{"values":[{}]},"mark":{"type":"rule","stroke":"#777","strokeWidth":1.2},"encoding":{"x":{"datum":0.47,"type":"quantitative","scale":{"domain":[-1.049,1.054],"nice":false,"zero":false},"axis":null},"x2":{"datum":0.823},"y":{"datum":0.732,"type":"quantitative","scale":{"domain":[0.2637,1.0418],"nice":false,"zero":false},"axis":null},"y2":{"datum":0.937}}},
  {"data":{"values":[{}]},"mark":{"type":"point","shape":"triangle-up","filled":true,"color":"#111","opacity":1,"size":80,"angle":316.3},"encoding":{"x":{"datum":-0.808,"type":"quantitative","scale":{"domain":[-1.049,1.054],"nice":false,"zero":false},"axis":null},"y":{"datum":0.929,"type":"quantitative","scale":{"domain":[0.2637,1.0418],"nice":false,"zero":false},"axis":null}}},
  {"data":{"values":[{}]},"mark":{"type":"point","shape":"triangle-up","filled":true,"color":"#111","opacity":1,"size":80,"angle":43.7},"encoding":{"x":{"datum":0.808,"type":"quantitative","scale":{"domain":[-1.049,1.054],"nice":false,"zero":false},"axis":null},"y":{"datum":0.929,"type":"quantitative","scale":{"domain":[0.2637,1.0418],"nice":false,"zero":false},"axis":null}}},
  {"data":{"values":[{}]},"mark":{"type":"text","text":"Re=10,20,30,40,50,60","fontSize":13,"color":"#333","align":"center","baseline":"middle"},"encoding":{"x":{"datum":-0.023,"type":"quantitative","scale":{"domain":[-1.049,1.054],"nice":false,"zero":false},"axis":null},"y":{"datum":0.548,"type":"quantitative","scale":{"domain":[0.2637,1.0418],"nice":false,"zero":false},"axis":null}}},
  {"data":{"values":[{}]},"mark":{"type":"text","text":"ϕ₁=ϕ₂=ϕ₃=0.1,α=−25,S₁=0.3","fontSize":17,"color":"#222","align":"center","baseline":"middle"},"encoding":{"x":{"datum":0,"type":"quantitative","scale":{"domain":[-1.049,1.054],"nice":false,"zero":false},"axis":null},"y":{"datum":1.0927,"type":"quantitative","scale":{"domain":[0.2637,1.0418],"nice":false,"zero":false},"axis":null}}},
  {"data":{"values":[{}]},"mark":{"type":"text","text":"C","fontSize":24,"fontWeight":"bold","color":"#111","align":"center","baseline":"middle"},"encoding":{"x":{"datum":-0.117,"type":"quantitative","scale":{"domain":[-1.049,1.054],"nice":false,"zero":false},"axis":null},"y":{"datum":0.0496,"type":"quantitative","scale":{"domain":[0.2637,1.0418],"nice":false,"zero":false},"axis":null}}}
 ]
},
{
 "width":419,"height":299,
 "resolve":{"axis":{"x":"independent","y":"independent"}},
 "layer":[
  {"data":{"values":[{}]},"mark":{"type":"rect","fill":"#d5f6dc"},"encoding":{"x":{"datum":-1.378,"type":"quantitative","scale":{"domain":[-1.048,1.045],"nice":false,"zero":false},"axis":{"zindex":1,"orient":"bottom","labels":false,"title":null,"ticks":true,"tickSize":-3,"tickColor":"#888","values":[-1,-0.9,-0.8,-0.7,-0.6,-0.5,-0.4,-0.3,-0.2,-0.1,0,0.1,0.2,0.3,0.4,0.5,0.6,0.7,0.8,0.9,1]}},"x2":{"datum":1.17},"y":{"datum":1.228,"type":"quantitative","scale":{"domain":[-0.369,1.083],"nice":false,"zero":false},"axis":{"zindex":1,"orient":"left","labels":false,"title":null,"ticks":true,"tickSize":-3,"tickColor":"#888","values":[-0.35,-0.3,-0.25,-0.2,-0.15,-0.1,-0.05,0,0.05,0.1,0.15,0.2,0.25,0.3,0.35,0.4,0.45,0.5,0.55,0.6,0.65,0.7,0.75,0.8,0.85,0.9,0.95,1,1.05]}},"y2":{"datum":-0.6456}}},
  {"data":{"values":[{"v":-0.5},{"v":0}]},"mark":{"type":"rule","stroke":"#ff3b3b","strokeDash":[6,4],"strokeWidth":1},"encoding":{"x":{"field":"v","type":"quantitative","scale":{"domain":[-1.048,1.045],"nice":false,"zero":false},"axis":null}}},
  {"data":{"values":[{"v":-0.2},{"v":0},{"v":0.8}]},"mark":{"type":"rule","stroke":"#ff3b3b","strokeDash":[6,4],"strokeWidth":1},"encoding":{"y":{"field":"v","type":"quantitative","scale":{"domain":[-0.369,1.083],"nice":false,"zero":false},"axis":null}}},
  {"data":{"values":[{}]},"mark":{"type":"rect","fill":null,"stroke":"#666","strokeWidth":1.2},"encoding":{"x":{"datum":-1.048,"type":"quantitative","scale":{"domain":[-1.048,1.045],"nice":false,"zero":false},"axis":{"zindex":1,"orient":"top","labels":false,"title":null,"ticks":true,"tickSize":-5,"tickColor":"#777","values":[-1,-0.5,0,0.5,1]}},"x2":{"datum":1.045},"y":{"datum":1.083,"type":"quantitative","scale":{"domain":[-0.369,1.083],"nice":false,"zero":false},"axis":{"zindex":1,"orient":"right","labels":false,"title":null,"ticks":true,"tickSize":-5,"tickColor":"#777","values":[-0.2,0,0.2,0.4,0.6,0.8,1]}},"y2":{"datum":-0.369}}},
  {"data":{"name":"curves"},"transform":[{"filter":"datum.p == 'D'"},{"fold":["r1","r2","r3","r4","r5","r6"],"as":["re","y"]}],
   "mark":{"type":"line","interpolate":"monotone"},
   "encoding":{
    "x":{"field":"x","type":"quantitative","scale":{"domain":[-1.048,1.045],"nice":false,"zero":false},"axis":{"zindex":1,"values":[-1,-0.5,0,0.5,1],"format":".1f","title":"η","titleFontStyle":"italic","labelFontSize":16.5,"titleFontSize":14,"ticks":true,"tickSize":-5,"tickColor":"#777","labelPadding":14.5,"titlePadding":12}},
    "y":{"field":"y","type":"quantitative","scale":{"domain":[-0.369,1.083],"nice":false,"zero":false},"axis":{"zindex":1,"values":[-0.2,0,0.2,0.4,0.6,0.8,1],"format":".1f","title":"F(η)","labelFontSize":16.5,"titleFontSize":14,"ticks":true,"tickSize":-5,"tickColor":"#777","labelPadding":9,"titlePadding":9}},
    "color":{"field":"t","type":"nominal","scale":{"domain":["M","D"],"range":["#ff00ff","#111111"]},"legend":{"title":null,"orient":"none","legendX":115,"legendY":189.5,"rowPadding":7,"labelExpr":"datum.value == 'M' ? '(Al₂O₃−CuO)/H₂O' : '(Al₂O₃−CuO−Cu)/H₂O'"}},
    "strokeDash":{"field":"t","type":"nominal","scale":{"domain":["M","D"],"range":[[1,0],[6,5]]},"legend":{"title":null,"orient":"none","legendX":115,"legendY":189.5,"rowPadding":7,"labelExpr":"datum.value == 'M' ? '(Al₂O₃−CuO)/H₂O' : '(Al₂O₃−CuO−Cu)/H₂O'"}},
    "strokeWidth":{"field":"t","type":"ordinal","scale":{"domain":["M","D"],"range":[2,2.6]},"legend":null},
    "detail":{"field":"re","type":"nominal"}
   }},
  {"data":{"values":[{}]},"mark":{"type":"rule","stroke":"#222","strokeWidth":1.2},"encoding":{"x":{"datum":-0.395,"type":"quantitative","scale":{"domain":[-1.048,1.045],"nice":false,"zero":false},"axis":null},"x2":{"datum":-0.853},"y":{"datum":0.442,"type":"quantitative","scale":{"domain":[-0.369,1.083],"nice":false,"zero":false},"axis":null},"y2":{"datum":0.757}}},
  {"data":{"values":[{}]},"mark":{"type":"rule","stroke":"#222","strokeWidth":1.2},"encoding":{"x":{"datum":0.469,"type":"quantitative","scale":{"domain":[-1.048,1.045],"nice":false,"zero":false},"axis":null},"x2":{"datum":0.898},"y":{"datum":0.442,"type":"quantitative","scale":{"domain":[-0.369,1.083],"nice":false,"zero":false},"axis":null},"y2":{"datum":0.709}}},
  {"data":{"values":[{}]},"mark":{"type":"point","shape":"triangle-up","filled":true,"color":"#111","opacity":1,"size":80,"angle":305.3},"encoding":{"x":{"datum":-0.836,"type":"quantitative","scale":{"domain":[-1.048,1.045],"nice":false,"zero":false},"axis":null},"y":{"datum":0.745,"type":"quantitative","scale":{"domain":[-0.369,1.083],"nice":false,"zero":false},"axis":null}}},
  {"data":{"values":[{}]},"mark":{"type":"point","shape":"triangle-up","filled":true,"color":"#111","opacity":1,"size":80,"angle":55.2},"encoding":{"x":{"datum":0.882,"type":"quantitative","scale":{"domain":[-1.048,1.045],"nice":false,"zero":false},"axis":null},"y":{"datum":0.699,"type":"quantitative","scale":{"domain":[-0.369,1.083],"nice":false,"zero":false},"axis":null}}},
  {"data":{"values":[{}]},"mark":{"type":"text","text":"Re=10,20,30,40,50,60","fontSize":13,"color":"#333","align":"center","baseline":"middle"},"encoding":{"x":{"datum":0.02,"type":"quantitative","scale":{"domain":[-1.048,1.045],"nice":false,"zero":false},"axis":null},"y":{"datum":0.296,"type":"quantitative","scale":{"domain":[-0.369,1.083],"nice":false,"zero":false},"axis":null}}},
  {"data":{"values":[{}]},"mark":{"type":"text","text":"ϕ₁=ϕ₂=ϕ₃=0.1,α=−25,S₁=−0.3","fontSize":17,"color":"#222","align":"center","baseline":"middle"},"encoding":{"x":{"datum":0,"type":"quantitative","scale":{"domain":[-1.048,1.045],"nice":false,"zero":false},"axis":null},"y":{"datum":1.178,"type":"quantitative","scale":{"domain":[-0.369,1.083],"nice":false,"zero":false},"axis":null}}},
  {"data":{"values":[{}]},"mark":{"type":"text","text":"D","fontSize":24,"fontWeight":"bold","color":"#111","align":"center","baseline":"middle"},"encoding":{"x":{"datum":-0.104,"type":"quantitative","scale":{"domain":[-1.048,1.045],"nice":false,"zero":false},"axis":null},"y":{"datum":-0.762,"type":"quantitative","scale":{"domain":[-0.369,1.083],"nice":false,"zero":false},"axis":null}}}
 ]
}
],
"resolve":{"scale":{"color":"independent","strokeDash":"independent","strokeWidth":"independent"}},
"config":{
 "font":"Liberation Sans",
 "view":{"stroke":null},
 "axis":{"domain":false,"grid":false,"ticks":false,"labelFontSize":16.5,"labelColor":"#333","titleFontSize":14,"titleFontWeight":"normal","titleColor":"#333","labelFlush":false,"labelOverlap":false},
 "legend":{"strokeWidth":2.5,"labelFontSize":15,"labelColor":"#333","symbolType":"stroke","symbolSize":625,"symbolStrokeWidth":2.2,"labelOffset":4,"padding":5}
}
}
